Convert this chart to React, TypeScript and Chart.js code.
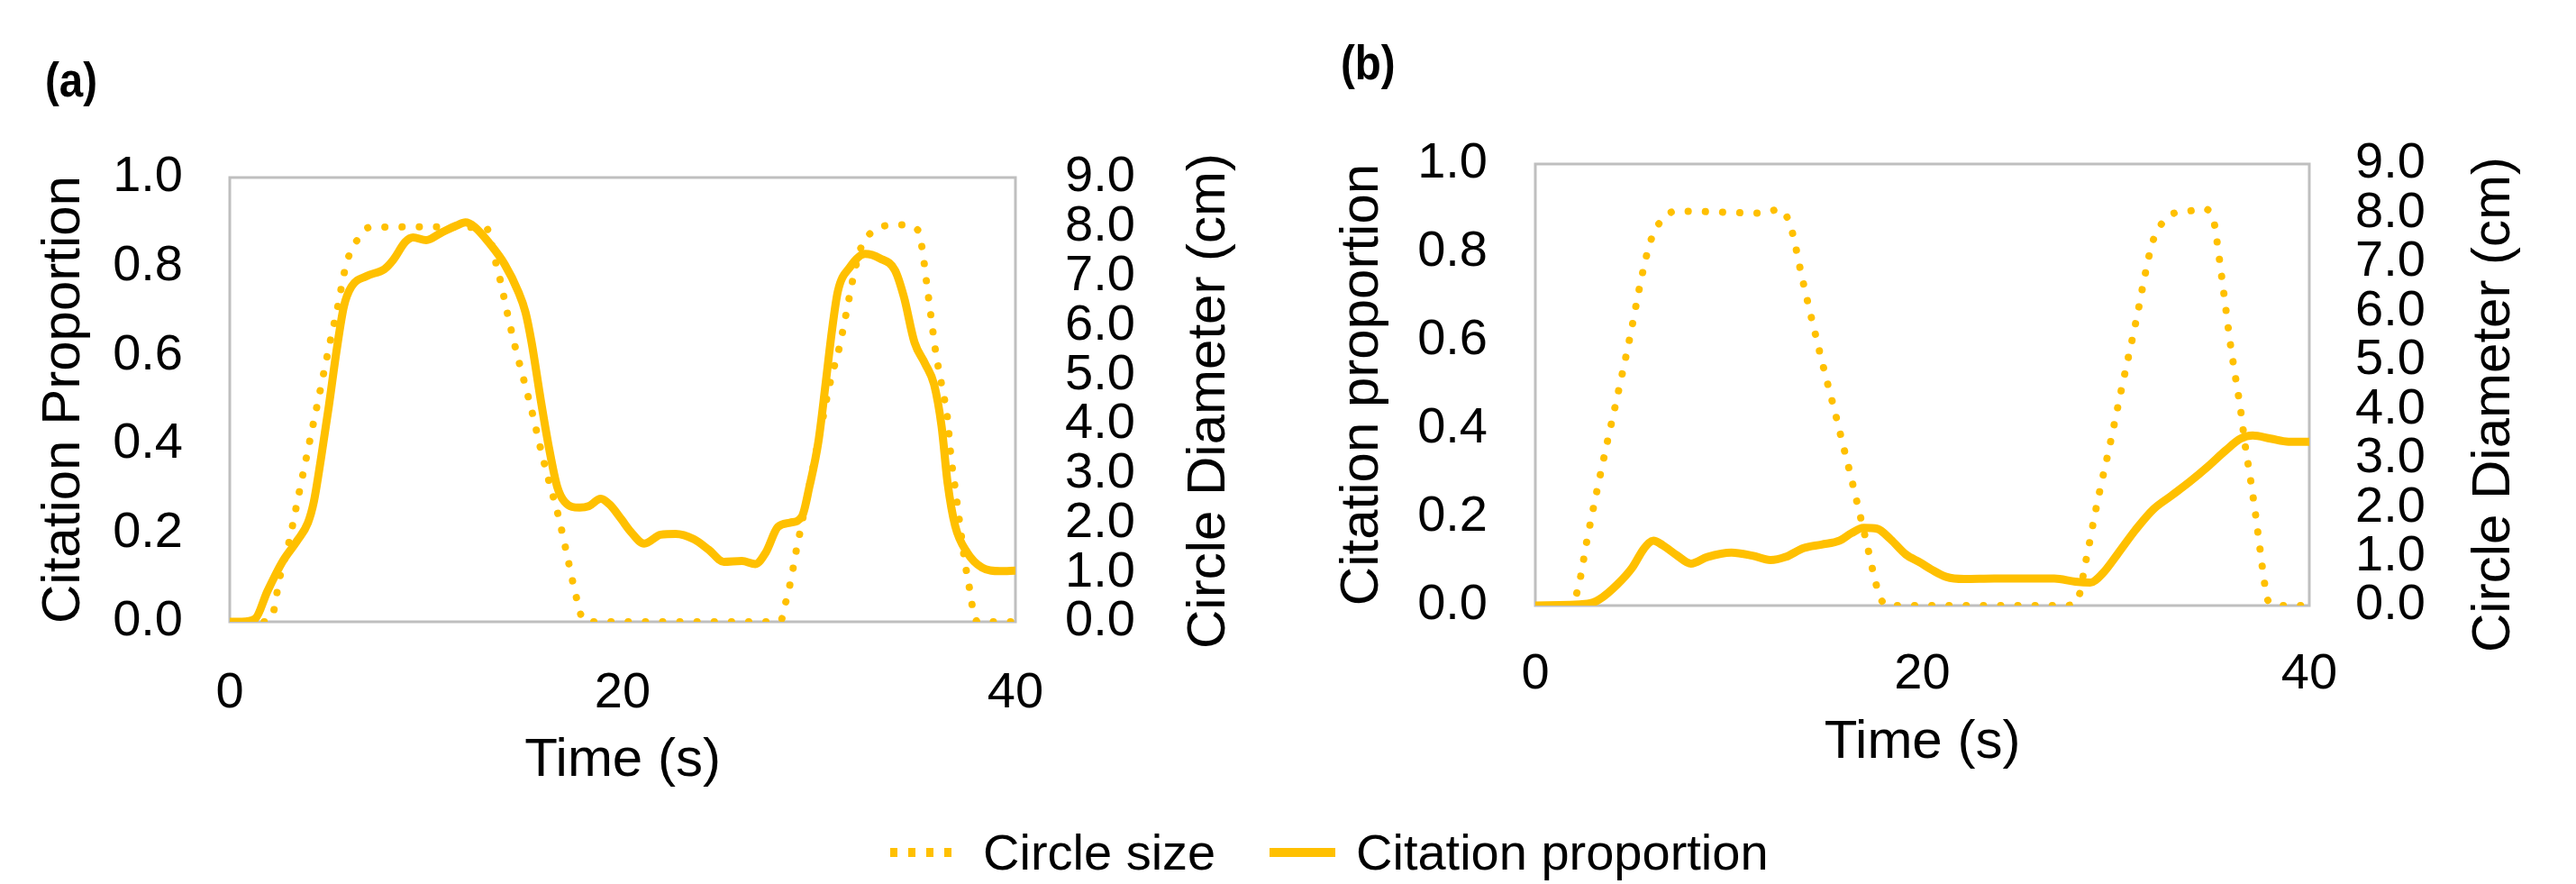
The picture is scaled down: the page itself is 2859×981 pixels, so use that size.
import React, { useEffect, useRef } from "react";
import { Chart, registerables } from "chart.js";

Chart.register(...registerables);

// ---------------- data ----------------
const timeTicks = [0, 20, 40];
const proportionTicks = [0, 0.2, 0.4, 0.6, 0.8, 1.0];
const diameterTicks = [0, 1, 2, 3, 4, 5, 6, 7, 8, 9];

// Panel (a): citation proportion (left axis)
const aCitationTime = [0, 0.6, 1.3, 1.91, 2.68, 3.44, 3.98, 4.28, 4.66, 5.05, 5.43, 5.81, 6.19, 6.96, 7.88, 8.33, 8.94, 9.33, 10.0, 10.78, 11.55, 12.0, 12.46, 13.22, 13.99, 14.68, 15.06, 15.37, 15.83, 16.28, 16.67, 17.05, 17.81, 18.27, 18.89, 19.34, 19.95, 20.41, 21.1, 21.94, 22.7, 23.62, 24.39, 25.15, 26.07, 26.76, 27.29, 27.9, 28.52, 29.13, 29.51, 29.97, 30.35, 30.66, 30.96, 31.57, 32.34, 33.1, 33.87, 34.33, 34.86, 35.4, 35.86, 36.24, 36.55, 36.93, 37.54, 38.3, 39.22, 40];
const aCitation = [0, 0, 0.007, 0.068, 0.135, 0.183, 0.223, 0.27, 0.372, 0.487, 0.608, 0.71, 0.754, 0.778, 0.794, 0.815, 0.855, 0.865, 0.859, 0.876, 0.892, 0.899, 0.889, 0.852, 0.805, 0.744, 0.696, 0.628, 0.5, 0.385, 0.304, 0.27, 0.257, 0.26, 0.277, 0.264, 0.23, 0.203, 0.176, 0.196, 0.198, 0.186, 0.162, 0.135, 0.137, 0.13, 0.156, 0.213, 0.223, 0.237, 0.304, 0.406, 0.541, 0.656, 0.744, 0.798, 0.828, 0.818, 0.791, 0.73, 0.629, 0.581, 0.534, 0.44, 0.311, 0.216, 0.156, 0.122, 0.114, 0.115];

// Panel (a): circle size (right axis, cm)
const aCircleTime = [0, 1.76, 2.21, 2.52, 2.98, 3.52, 4.05, 4.59, 5.12, 5.5, 5.84, 6.07, 6.5, 7.11, 10.6, 13.07, 13.53, 13.76, 14.14, 14.53, 14.99, 15.44, 15.83, 16.28, 16.74, 17.13, 17.51, 17.97, 18.3, 27.5, 28.06, 28.29, 28.49, 28.67, 28.82, 29.0, 30.05, 30.58, 31.04, 31.39, 31.73, 32.19, 32.72, 33.49, 34.33, 35.02, 35.24, 35.47, 35.7, 35.93, 36.24, 36.55, 36.7, 36.93, 37.16, 37.39, 37.54, 37.69, 37.84, 38.07, 40];
const aCircle = [0, 0, 0.18, 0.85, 1.55, 2.59, 3.62, 4.66, 5.69, 6.39, 7.09, 7.42, 7.74, 7.99, 8.0, 7.97, 7.3, 6.94, 6.24, 5.57, 4.87, 4.17, 3.5, 2.8, 2.13, 1.43, 0.73, 0.06, 0, 0, 0.03, 0.37, 0.7, 1.06, 1.4, 1.75, 3.83, 4.87, 5.57, 6.26, 6.95, 7.64, 7.9, 8.03, 8.04, 7.94, 7.59, 6.89, 6.19, 5.49, 4.8, 4.09, 3.41, 2.71, 2.01, 1.31, 0.94, 0.61, 0.24, 0, 0];

// Panel (b): citation proportion (left axis)
const bCitationTime = [0, 2.69, 3.31, 4.24, 5.01, 5.63, 6.1, 6.57, 7.34, 8.04, 8.89, 10.14, 11.22, 12.15, 12.93, 13.86, 14.79, 15.73, 16.34, 16.96, 17.66, 18.36, 19.14, 19.9, 20.46, 21.23, 22.17, 23.72, 25.27, 26.82, 27.91, 28.68, 29.3, 30.08, 31.01, 31.94, 32.88, 33.81, 34.74, 35.67, 36.45, 37.07, 38.0, 38.93, 40];
const bCitation = [0, 0.004, 0.014, 0.048, 0.086, 0.13, 0.147, 0.137, 0.113, 0.095, 0.11, 0.12, 0.113, 0.103, 0.11, 0.13, 0.138, 0.147, 0.164, 0.176, 0.174, 0.15, 0.116, 0.097, 0.082, 0.065, 0.06, 0.061, 0.061, 0.061, 0.054, 0.052, 0.072, 0.116, 0.171, 0.218, 0.249, 0.28, 0.314, 0.351, 0.378, 0.385, 0.378, 0.371, 0.371];

// Panel (b): circle size (right axis, cm)
const bCircleTime = [0, 2.0, 2.14, 2.34, 2.65, 3.18, 3.74, 4.32, 4.89, 5.4, 5.79, 6.07, 6.54, 7.26, 11.77, 12.62, 13.13, 13.36, 13.74, 14.14, 14.56, 14.99, 15.45, 15.88, 16.31, 16.73, 17.15, 17.54, 17.79, 18.21, 27.3, 27.99, 28.22, 28.37, 28.56, 28.89, 29.26, 29.65, 30.02, 30.39, 30.77, 31.14, 31.48, 31.87, 32.22, 32.84, 33.65, 34.51, 35.05, 35.2, 35.44, 35.67, 35.9, 36.17, 36.45, 36.68, 36.96, 37.22, 37.45, 37.69, 37.87, 38.6, 40];
const bCircle = [0, 0, 0.25, 0.59, 1.29, 2.33, 3.37, 4.41, 5.47, 6.51, 7.2, 7.55, 7.86, 8.04, 8.0, 8.08, 7.81, 7.48, 6.77, 6.08, 5.39, 4.7, 4.0, 3.31, 2.63, 1.93, 1.23, 0.55, 0.19, 0, 0, 0.08, 0.4, 0.75, 1.11, 1.8, 2.5, 3.19, 3.89, 4.59, 5.28, 5.98, 6.68, 7.37, 7.69, 7.97, 8.03, 8.09, 7.86, 7.51, 6.8, 6.1, 5.39, 4.69, 3.99, 3.28, 2.58, 1.86, 1.16, 0.45, 0.1, 0, 0];

const seriesCircle = "Circle size";
const seriesCitation = "Citation proportion";
const xTitle = "Time (s)";
const rightTitle = "Circle Diameter (cm)";

// ---------------- style / layout ----------------
const FONT = "'Liberation Sans', Arial, Helvetica, sans-serif";
const GOLD = "#FFC000";
const FRAME = "#BFBFBF";

type PanelCfg = {
  label: string;
  yTitle: string;
  citT: number[];
  cit: number[];
  cirT: number[];
  cir: number[];
  left: number;
  w: number;
  h: number;
  padTop: number;
  yAxisW: number;
  y1AxisW: number;
  xAxisH: number;
  xTickPad: number;
  xTitlePad: number;
  yTickPad: number;
  yTitlePad: number;
  y1TickPad: number;
  labelX: number;
  labelY: number;
  rtX: number;
  rtY: number;
};

const panelA: PanelCfg = {
  label: "(a)",
  yTitle: "Citation Proportion",
  citT: aCitationTime,
  cit: aCitation,
  cirT: aCircleTime,
  cir: aCircle,
  left: 0,
  w: 1440,
  h: 890,
  padTop: 197,
  yAxisW: 255,
  y1AxisW: 313,
  xAxisH: 200,
  xTickPad: 46,
  xTitlePad: 10,
  yTickPad: 52,
  yTitlePad: 35,
  y1TickPad: 55,
  labelX: 50,
  labelY: 107,
  rtX: 1342,
  rtY: 445,
};

const panelB: PanelCfg = {
  label: "(b)",
  yTitle: "Citation proportion",
  citT: bCitationTime,
  cit: bCitation,
  cirT: bCircleTime,
  cir: bCircle,
  left: 1440,
  w: 1419,
  h: 872,
  padTop: 182,
  yAxisW: 264,
  y1AxisW: 296,
  xAxisH: 200,
  xTickPad: 43,
  xTitlePad: 12,
  yTickPad: 53,
  yTitlePad: 36,
  y1TickPad: 51,
  labelX: 48,
  labelY: 88,
  rtX: 1328,
  rtY: 449,
};

const decorPlugin = {
  id: "decor",
  beforeDatasetsDraw(chart: any) {
    const { ctx, chartArea } = chart;
    ctx.save();
    ctx.strokeStyle = FRAME;
    ctx.lineWidth = 3;
    ctx.strokeRect(chartArea.left, chartArea.top, chartArea.right - chartArea.left, chartArea.bottom - chartArea.top);
    ctx.restore();
  },
  afterDraw(chart: any, _args: any, opts: any) {
    const ctx = chart.ctx;
    ctx.save();
    ctx.fillStyle = "#000";
    ctx.translate(opts.labelX, opts.labelY);
    ctx.scale(0.88, 1);
    ctx.font = `bold 54px ${FONT}`;
    ctx.textAlign = "left";
    ctx.textBaseline = "alphabetic";
    ctx.fillText(opts.label, 0, 0);
    ctx.restore();

    ctx.save();
    ctx.fillStyle = "#000";
    ctx.translate(opts.rtX, opts.rtY);
    ctx.rotate(-Math.PI / 2);
    ctx.font = `60px ${FONT}`;
    ctx.textAlign = "center";
    ctx.textBaseline = "middle";
    ctx.fillText(opts.rightTitle, 0, 0);
    ctx.restore();
  },
};

const pts = (xs: number[], ys: number[]) => xs.map((x, i) => ({ x, y: ys[i] }));
const setTicks = (arr: number[]) => (s: any) => {
  s.ticks = arr.map((v) => ({ value: v }));
};

function buildConfig(p: PanelCfg): any {
  const tickFont = { family: FONT, size: 56, lineHeight: 1.2 };
  const titleFont = { family: FONT, size: 60, lineHeight: 1.2 };
  return {
    type: "line",
    data: {
      datasets: [
        {
          label: seriesCitation,
          data: pts(p.citT, p.cit),
          yAxisID: "y",
          borderColor: GOLD,
          backgroundColor: GOLD,
          borderWidth: 9,
          borderCapStyle: "round",
          borderJoinStyle: "round",
          cubicInterpolationMode: "monotone",
          pointRadius: 0,
          pointHitRadius: 0,
          fill: false,
        },
        {
          label: seriesCircle,
          data: pts(p.cirT, p.cir),
          yAxisID: "y1",
          borderColor: GOLD,
          backgroundColor: GOLD,
          borderWidth: 8,
          borderDash: [0.1, 19],
          borderCapStyle: "round",
          borderJoinStyle: "round",
          cubicInterpolationMode: "monotone",
          pointRadius: 0,
          pointHitRadius: 0,
          fill: false,
        },
      ],
    },
    options: {
      responsive: false,
      maintainAspectRatio: false,
      animation: false,
      devicePixelRatio: 1,
      events: [],
      layout: { padding: { top: p.padTop, left: 0, right: 0, bottom: 0 } },
      plugins: {
        legend: { display: false },
        tooltip: { enabled: false },
        decor: {
          label: p.label,
          labelX: p.labelX,
          labelY: p.labelY,
          rtX: p.rtX,
          rtY: p.rtY,
          rightTitle: rightTitle,
        },
      },
      scales: {
        x: {
          type: "linear",
          position: "bottom",
          min: 0,
          max: 40,
          afterBuildTicks: setTicks(timeTicks),
          grid: { display: false, drawTicks: false },
          border: { display: false },
          ticks: { padding: p.xTickPad, font: tickFont, color: "#000", maxRotation: 0, autoSkip: false },
          title: { display: true, text: xTitle, font: titleFont, color: "#000", padding: { top: 0, bottom: p.xTitlePad } },
          afterFit: (s: any) => {
            s.height = p.xAxisH;
          },
        },
        y: {
          type: "linear",
          position: "left",
          min: 0,
          max: 1,
          afterBuildTicks: setTicks(proportionTicks),
          grid: { display: false, drawTicks: false },
          border: { display: false },
          ticks: {
            padding: p.yTickPad,
            font: tickFont,
            color: "#000",
            autoSkip: false,
            callback: (v: any) => Number(v).toFixed(1),
          },
          title: { display: true, text: p.yTitle, font: titleFont, color: "#000", padding: { top: p.yTitlePad, bottom: 0 } },
          afterFit: (s: any) => {
            s.width = p.yAxisW;
          },
        },
        y1: {
          type: "linear",
          position: "right",
          min: 0,
          max: 9,
          afterBuildTicks: setTicks(diameterTicks),
          grid: { display: false, drawTicks: false },
          border: { display: false },
          ticks: {
            padding: p.y1TickPad,
            font: tickFont,
            color: "#000",
            autoSkip: false,
            callback: (v: any) => Number(v).toFixed(1),
          },
          title: { display: false },
          afterFit: (s: any) => {
            s.width = p.y1AxisW;
          },
        },
      },
    },
    plugins: [decorPlugin],
  };
}

function Panel({ cfg }: { cfg: PanelCfg }) {
  const ref = useRef<HTMLCanvasElement>(null);
  useEffect(() => {
    const chart = new Chart(ref.current as HTMLCanvasElement, buildConfig(cfg));
    return () => chart.destroy();
  }, [cfg]);
  return (
    <canvas
      ref={ref}
      width={cfg.w}
      height={cfg.h}
      style={{ position: "absolute", left: cfg.left, top: 0, width: cfg.w, height: cfg.h }}
    />
  );
}

function Legend() {
  const text: React.CSSProperties = {
    position: "absolute",
    top: 916,
    height: 60,
    lineHeight: "60px",
    fontFamily: FONT,
    fontSize: 56,
    color: "#000",
    whiteSpace: "nowrap",
  };
  return (
    <>
      <div
        style={{
          position: "absolute",
          left: 988,
          top: 941,
          width: 69,
          height: 10,
          background: `repeating-linear-gradient(90deg, ${GOLD} 0px, ${GOLD} 8px, transparent 8px, transparent 20px)`,
        }}
      />
      <div style={{ ...text, left: 1091 }}>{seriesCircle}</div>
      <div style={{ position: "absolute", left: 1409, top: 941, width: 73, height: 10, background: GOLD }} />
      <div style={{ ...text, left: 1505 }}>{seriesCitation}</div>
    </>
  );
}

export default function App() {
  return (
    <div
      style={{
        position: "absolute",
        left: 0,
        top: 0,
        width: 2859,
        height: 981,
        background: "#fff",
        overflow: "hidden",
      }}
    >
      <Panel cfg={panelA} />
      <Panel cfg={panelB} />
      <Legend />
    </div>
  );
}
